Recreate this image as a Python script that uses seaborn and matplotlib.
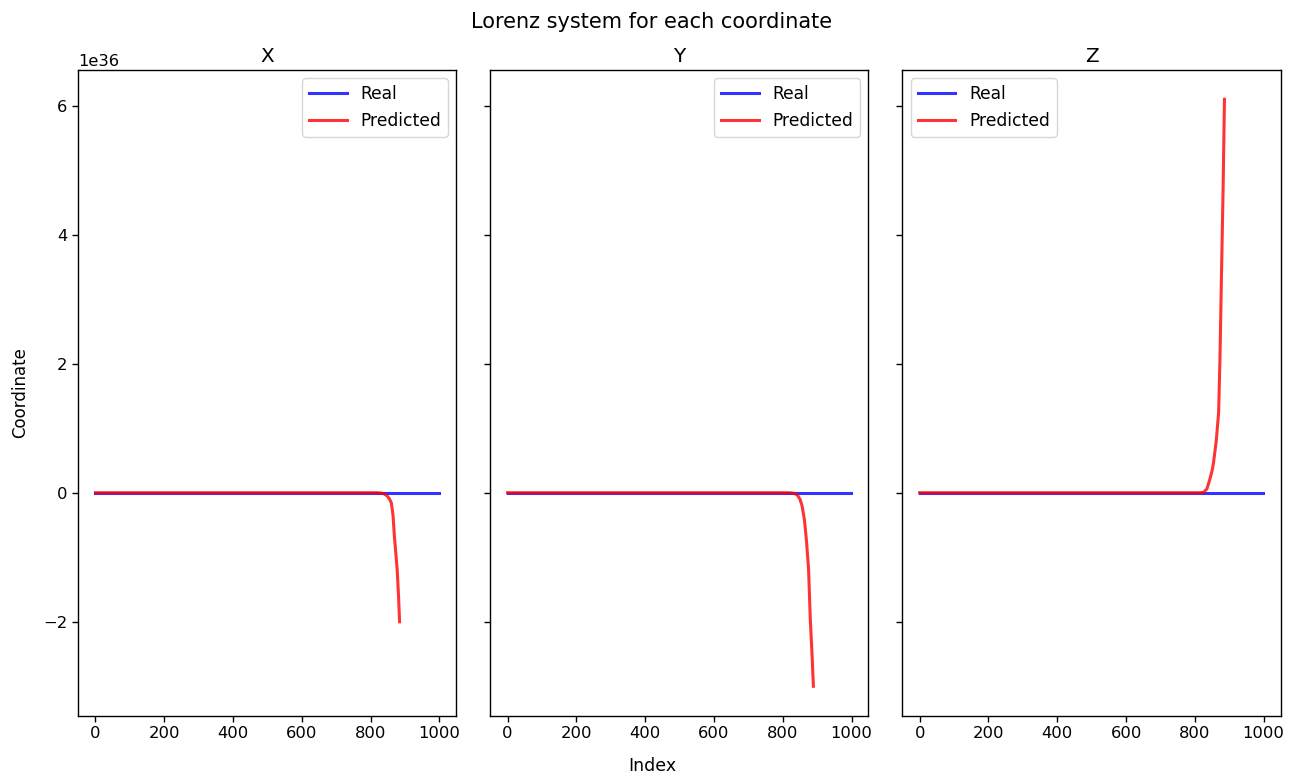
import matplotlib
matplotlib.use("Agg")
import matplotlib.pyplot as plt
import seaborn as sns
import numpy as np

# values, in units of 1e36
scale = 1e36
coords = ["X", "Y", "Z"]

real_index = [0, 250, 500, 750, 999]
real_x = [0, 0, 0, 0, 0]
real_y = [0, 0, 0, 0, 0]
real_z = [0, 0, 0, 0, 0]

pred_index_x = [0, 400, 800, 820, 830, 840, 848, 855, 860, 865, 869, 873, 877, 881, 884]
pred_x = [0, 0, 0, 0, -0.005, -0.02, -0.05, -0.1, -0.155, -0.35, -0.68, -0.93, -1.19, -1.6, -2.0]

pred_index_y = [0, 400, 800, 820, 834, 843, 850, 856, 863, 869, 875, 880, 885, 889]
pred_y = [0, 0, 0, 0, -0.01, -0.04, -0.1, -0.2, -0.42, -0.75, -1.19, -1.96, -2.5, -3.0]

pred_index_z = [0, 400, 800, 815, 825, 835, 843, 850, 854, 862, 869, 873, 877, 882, 886]
pred_z = [0, 0, 0, 0, 0.005, 0.06, 0.2, 0.34, 0.46, 0.8, 1.24, 2.1, 3.29, 4.7, 6.1]

real = [real_x, real_y, real_z]
pred_idx = [pred_index_x, pred_index_y, pred_index_z]
pred = [pred_x, pred_y, pred_z]
legend_loc = ["upper right", "upper right", "upper left"]

plt.rcParams.update({
    "xtick.labelsize": 11.8, "ytick.labelsize": 11.8,
    "xtick.major.size": 4.2, "ytick.major.size": 4.2,
    "xtick.major.width": 1.0, "ytick.major.width": 1.0,
    "axes.linewidth": 1.0,
})

fig, axes = plt.subplots(1, 3, figsize=(13.04, 7.77), dpi=100, sharey=True)
fig.subplots_adjust(left=0.06, right=0.982, top=0.91, bottom=0.079, wspace=0.09)

for i, ax in enumerate(axes):
    sns.lineplot(x=real_index, y=np.array(real[i]) * scale, ax=ax,
                 color="blue", alpha=0.8, linewidth=2.2, label="Real")
    sns.lineplot(x=pred_idx[i], y=np.array(pred[i]) * scale, ax=ax,
                 color="red", alpha=0.8, linewidth=2.2, label="Predicted")
    ax.set_title(coords[i], fontsize=14.4)
    ax.legend(loc=legend_loc[i], fontsize=12.3, handlelength=2.2)

axes[0].set_ylabel("Coordinate", fontsize=12)
axes[0].yaxis.set_label_coords(-0.13, 0.5)
fig.suptitle("Lorenz system for each coordinate", fontsize=15, y=0.985)
fig.supxlabel("Index", fontsize=12.5, y=0.002)

fig.savefig("out.png", dpi=100)
